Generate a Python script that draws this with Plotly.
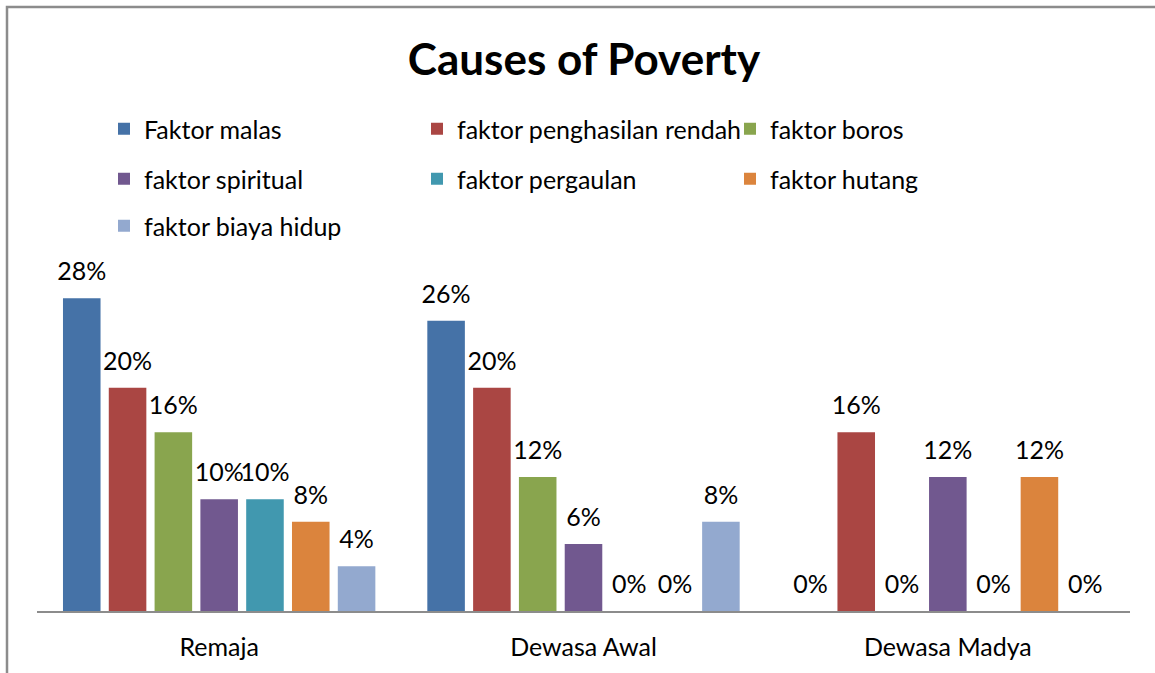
import plotly.graph_objects as go

categories = ["Remaja", "Dewasa Awal", "Dewasa Madya"]
series_names = ["Faktor malas", "faktor penghasilan rendah", "faktor boros",
                "faktor spiritual", "faktor pergaulan", "faktor hutang",
                "faktor biaya hidup"]
faktor_malas = [28, 26, 0]
faktor_penghasilan_rendah = [20, 20, 16]
faktor_boros = [16, 12, 0]
faktor_spiritual = [10, 6, 12]
faktor_pergaulan = [10, 0, 0]
faktor_hutang = [8, 0, 12]
faktor_biaya_hidup = [4, 8, 0]
series_values = [faktor_malas, faktor_penghasilan_rendah, faktor_boros,
                 faktor_spiritual, faktor_pergaulan, faktor_hutang,
                 faktor_biaya_hidup]
colors = ["#4572A7", "#AA4643", "#89A54E", "#71588F", "#4198AF", "#DB843D", "#93A9CF"]
legend_ids = ["legend", "legend", "legend", "legend2", "legend2", "legend2", "legend3"]

W, H = 1155, 673
FONT = "Lato"
FS = 25

fig = go.Figure()
for name, vals, col, lg in zip(series_names, series_values, colors, legend_ids):
    fig.add_trace(go.Bar(
        x=categories, y=vals, name=name, marker=dict(color=col, line=dict(width=0)),
        text=[f"<span style='font-size:{FS}px'>{v}%</span><br>\u00a0" for v in vals],
        textposition="outside", constraintext="none",
        textfont=dict(family=FONT, size=10, color="black"),
        cliponaxis=False, legend=lg,
    ))

plot_l, plot_r, plot_t, plot_b = 37, 1130, 276, 611
ph = plot_b - plot_t
pw = plot_r - plot_l

def leg(xpx, ypx):
    return dict(orientation="h", xref="container", yref="container",
                x=xpx / W, y=1 - ypx / H, xanchor="left", yanchor="middle",
                entrywidth=268, entrywidthmode="pixels",
                font=dict(family=FONT, size=FS, color="black"),
                bgcolor="rgba(0,0,0,0)", traceorder="normal")

fig.update_layout(
    width=W, height=H,
    margin=dict(l=plot_l, r=W - plot_r, t=plot_t, b=H - plot_b, pad=0),
    paper_bgcolor="white", plot_bgcolor="white",
    barmode="group", bargap=0.12, bargroupgap=0.18,
    title=dict(text="<b>Causes of Poverty</b>", x=584 / W, xanchor="center",
               y=1 - 60 / H, yanchor="middle", yref="container", xref="container",
               font=dict(family=FONT, size=44, color="black")),
    legend=leg(104, 129),
    legend2=leg(104, 179),
    legend3=leg(104, 226),
    xaxis=dict(showline=True, linecolor="#8C8C8C", linewidth=2, ticks="",
               showgrid=False, tickfont=dict(family=FONT, size=FS, color="black"),
               ticklabelstandoff=13),
    yaxis=dict(range=[0, 30], visible=False, showgrid=False, zeroline=False),
    showlegend=True,
    shapes=[dict(type="rect", xref="paper", yref="paper",
                 x0=(7 - plot_l) / pw, x1=(1170 - plot_l) / pw,
                 y0=(plot_b - 690) / ph, y1=(plot_b - 7) / ph,
                 line=dict(color="#8C8C8C", width=2.5), fillcolor="rgba(0,0,0,0)",
                 layer="below")],
)

fig.write_html("out.html", config={"displayModeBar": False},
               post_script="document.body.style.margin='0';")
